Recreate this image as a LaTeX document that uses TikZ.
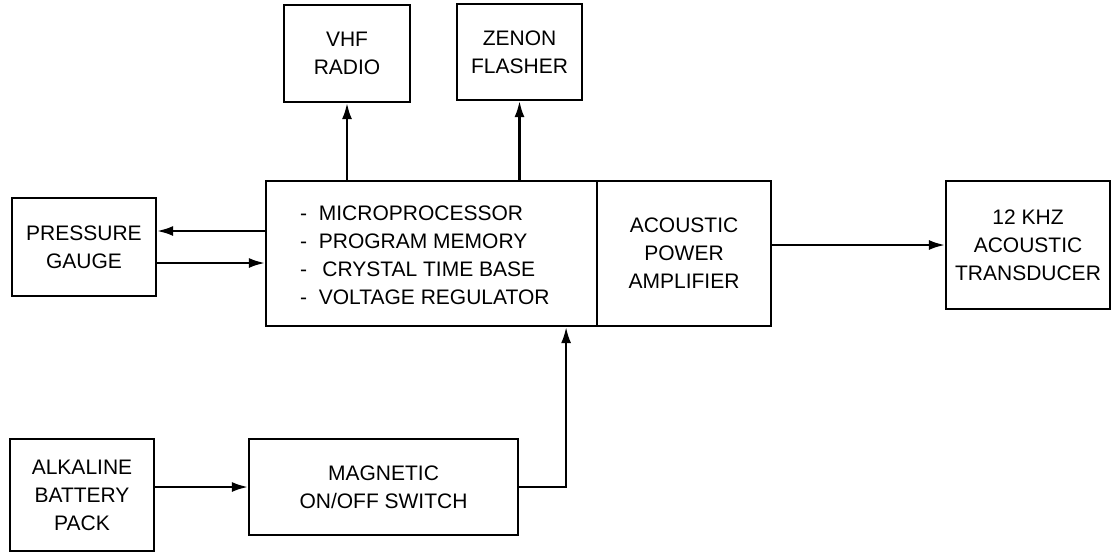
\documentclass[tikz,border=0pt]{standalone}
\usepackage{fontspec}
\setmainfont{Liberation Sans}
\usetikzlibrary{arrows.meta,calc}
\begin{document}
\begin{tikzpicture}[x=1pt,y=-1pt,
  txt/.style={font=\fontsize{21}{28}\selectfont},
  blk/.style={draw,line width=2.2pt,align=center,inner sep=0pt,txt},
  arr/.style={line width=2.2pt,-{Latex[length=16pt,width=10pt]}}]
\useasboundingbox (0,0) rectangle (1116,552);
\fill[white] (0,0) rectangle (1116,552);
% blocks (centres in pixel coordinates, sizes in pt)
\node[blk,minimum width=126pt,minimum height=97pt] (vhf) at (347,53.5) {VHF\\RADIO};
\node[blk,minimum width=125pt,minimum height=96pt] (zen) at (519.5,52) {ZENON\\FLASHER};
\node[blk,minimum width=144pt,minimum height=98pt] (pg) at (84,247) {PRESSURE\\GAUGE};
\node[blk,minimum width=331pt,minimum height=145pt] (ctrl) at (431.5,253.5) {};
\node[align=left,txt,inner sep=0pt,anchor=west] (ctrltxt) at (300,255.5)
  {-\ \ MICROPROCESSOR\\-\ \ PROGRAM MEMORY\\-\ \ \,CRYSTAL TIME BASE\\-\ \ VOLTAGE REGULATOR};
\node[blk,minimum width=174pt,minimum height=145pt,anchor=west] (amp) at ([xshift=-2.2pt]ctrl.east) {ACOUSTIC\\POWER\\AMPLIFIER};
\node[blk,minimum width=164pt,minimum height=128pt] (trd) at (1028,245) {12 KHZ\\ACOUSTIC\\TRANSDUCER};
\node[blk,minimum width=144pt,minimum height=112pt] (bat) at (82,495) {ALKALINE\\BATTERY\\PACK};
\node[blk,minimum width=269pt,minimum height=96pt] (mag) at (383.5,487) {MAGNETIC\\ON/OFF SWITCH};
% connectors
\draw[arr] (ctrl.north -| vhf.south) -- (vhf.south);
\draw[arr] (ctrl.north -| zen.south) -- (zen.south);
\draw[arr] ([yshift=16pt]ctrl.west |- pg.east) -- ([yshift=16pt]pg.east);
\draw[arr] ([yshift=-16pt]pg.east) -- ([yshift=-16pt]ctrl.west |- pg.east);
\draw[arr] (amp.east |- trd.west) -- (trd.west);
\draw[arr] (bat.east |- mag.west) -- (mag.west);
\coordinate (pwr) at ([xshift=-32pt]ctrl.south east);
\draw[arr] (mag.east) -| (pwr);
\end{tikzpicture}
\end{document}
